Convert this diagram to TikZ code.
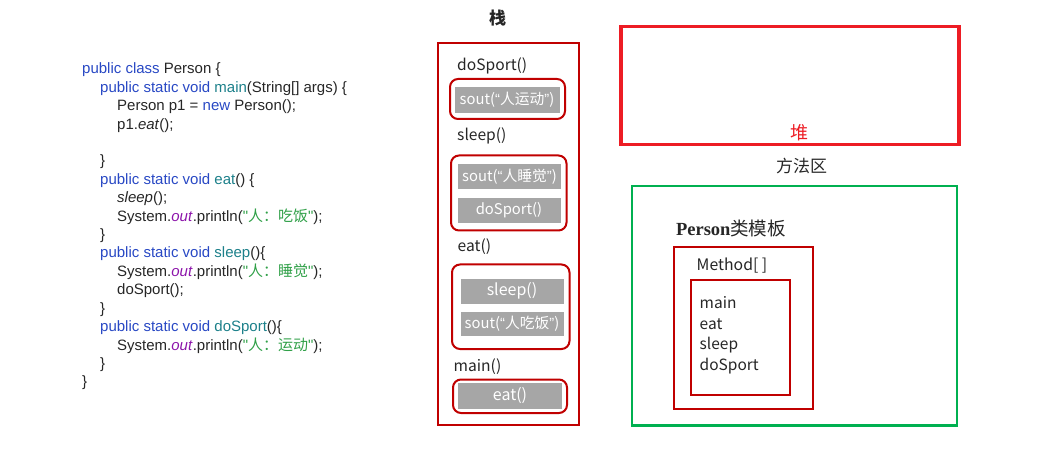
\documentclass[tikz,border=0pt]{standalone}
\usepackage{fontspec}
\setmainfont{Liberation Sans}
\newfontfamily\arialf{Liberation Sans}
\newfontfamily\serf{Liberation Serif}
\newfontfamily\cjk{Noto Sans CJK SC}
\definecolor{kw}{RGB}{40,72,196}
\definecolor{mn}{RGB}{28,128,138}
\definecolor{ot}{RGB}{140,20,170}
\definecolor{st}{RGB}{48,160,72}
\definecolor{dred}{RGB}{192,0,0}
\definecolor{hred}{RGB}{237,28,36}
\definecolor{grn}{RGB}{0,176,80}
\definecolor{cgray}{RGB}{166,166,166}
\newcommand\myoq{{\arialf “}}
\newcommand\mycq{{\arialf ”}}
\newcommand\kwd[1]{\textcolor{kw}{#1}}
\newcommand\mnm[1]{\textcolor{mn}{#1}}
\newcommand\outw{\textcolor{ot}{\textit{out}}}
\newcommand\strg[1]{\textcolor{st}{"{\cjk #1}"}}
\begin{document}
\begin{tikzpicture}[x=1pt,y=-1pt,
  code/.style={anchor=base west, inner sep=0pt, text=black!85, font=\arialf\fontsize{15}{18}\selectfont},
  lbl/.style={anchor=base west, inner sep=0pt, text=black!85, font=\cjk\fontsize{15.6}{18}\selectfont},
  frame/.style={draw=dred, line width=2pt, rounded corners=8pt},
  cell/.style={fill=cgray, draw=white, line width=0.6pt, text=white, inner sep=0pt,
    font=\cjk\fontsize{14.8}{16}\selectfont, minimum width=104pt, minimum height=25.5pt},
  ttl/.style={inner sep=0pt, text=black!85}
]
\useasboundingbox (0,0) rectangle (1046,462);
% ---- code listing
\node[code] (c1)  at (82,74)    {\kwd{public class} Person \{};
\node[code] (c2)  at (100,92.4) {\kwd{public static void} \mnm{main}(String[] args) \{};
\node[code] (c3)  at (117,110.8) {Person p1 = \kwd{new} Person();};
\node[code] (c4)  at (117,129.2) {p1.\textit{eat}();};
\node[code] (c6)  at (100,166)   {\}};
\node[code] (c7)  at (100,184.4) {\kwd{public static void} \mnm{eat}() \{};
\node[code] (c8)  at (117,202.8) {\textit{sleep}();};
\node[code] (c9)  at (117,221.2) {System.\outw.println(\strg{人：吃饭});};
\node[code] (c10) at (100,239.6) {\}};
\node[code] (c11) at (100,258)   {\kwd{public static void} \mnm{sleep}()\{};
\node[code] (c12) at (117,276.4) {System.\outw.println(\strg{人：睡觉});};
\node[code] (c13) at (117,294.8) {doSport();};
\node[code] (c14) at (100,313.2) {\}};
\node[code] (c15) at (100,331.6) {\kwd{public static void} \mnm{doSport}()\{};
\node[code] (c16) at (117,350)   {System.\outw.println(\strg{人：运动});};
\node[code] (c17) at (100,368.4) {\}};
\node[code] (c18) at (82,386.8)  {\}};
% ---- stack
\node[ttl, font=\cjk\bfseries\fontsize{17}{19}\selectfont] (stk) at (497.5,18) {栈};
\draw[dred, line width=2pt] (438,43) rectangle (579,425);
\node[lbl] (l1) at (457,70.5) {doSport()};
\draw[frame] (450,79) rectangle (565,119);
\node[cell, minimum width=106pt, minimum height=27pt] (g1) at (507,99.7) {sout(\myoq 人运动\mycq)};
\node[lbl] (l2) at (457,140.5) {sleep()};
\draw[frame] (451,155.5) rectangle (566.5,230.5);
\node[cell] (g2) at (509.5,176.5) {sout(\myoq 人睡觉\mycq)};
\node[cell] (g3) at (509,210.2) {doSport()};
\node[lbl] (l3) at (457.5,252) {eat()};
\draw[frame] (452,264.5) rectangle (569.5,349);
\node[cell, font=\cjk\fontsize{16}{18}\selectfont] (g4) at (512,291.2) {sleep()};
\node[cell] (g5) at (512,323.7) {sout(\myoq 人吃饭\mycq)};
\node[lbl] (l4) at (453.5,371) {main()};
\draw[frame] (453,379.5) rectangle (567,413);
\node[cell, minimum width=105pt, minimum height=27pt, font=\cjk\fontsize{16}{18}\selectfont] (g6) at (510,396) {eat()};
% ---- heap
\draw[hred, line width=3.3pt] (621,26.7) rectangle (959,144.3);
\node[ttl, text=hred, font=\cjk\fontsize{18}{20}\selectfont] (heap) at (799,132.5) {堆};
% ---- method area
\node[ttl, font=\cjk\fontsize{17}{20}\selectfont] (ma) at (801.5,166.5) {方法区};
\draw[grn, line width=2.5pt] (632,186) rectangle (957,425.5);
\node[ttl, font=\fontsize{18.5}{20}\selectfont] (tpl) at (731,228) {{\serf\bfseries Person}{\cjk 类模板}};
\draw[dred, line width=2pt] (674,247) rectangle (813,409);
\node[lbl, anchor=west, font=\cjk\fontsize{15.8}{18}\selectfont] (mth) at (696.5,265.7) {Method[ ]};
\draw[dred, line width=2pt] (690.5,279.5) rectangle (790,395);
\node[lbl, anchor=north west, align=left, font=\cjk\fontsize{15.5}{20.6}\selectfont] (ml) at (699.5,296.5) {main\\eat\\sleep\\doSport};
\end{tikzpicture}
\end{document}
